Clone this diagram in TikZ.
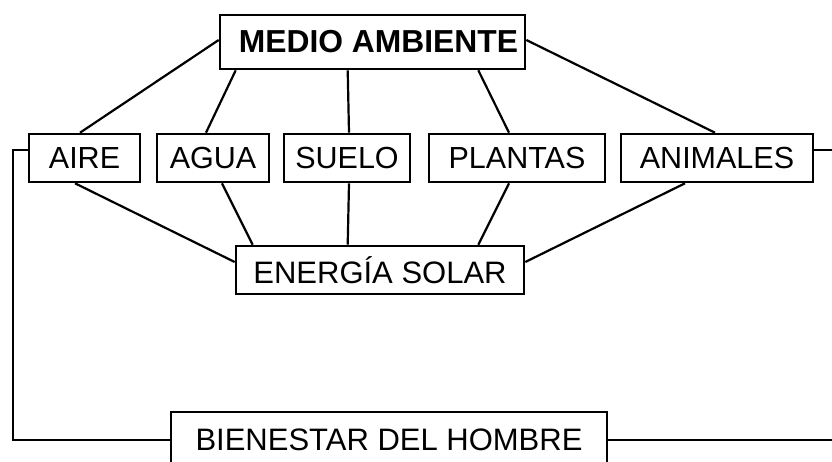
\documentclass[tikz,border=0pt]{standalone}
\usepackage{fontspec}
\setmainfont{Liberation Sans}
\usetikzlibrary{calc}
\begin{document}
\begin{tikzpicture}[x=1pt,y=-1pt,
  boxst/.style={draw,line width=2.6pt,inner sep=0pt,minimum height=48pt,font=\fontsize{30.5}{36}\selectfont},
  bigbox/.style={boxst,font=\fontsize{31}{36}\selectfont},
  link/.style={line width=2.2pt},
  ]
\useasboundingbox[fill=white] (0,0) rectangle (832,462);
\node[boxst,minimum width=305pt,minimum height=54pt,font=\fontsize{31.8}{36}\selectfont\bfseries] (medio) at (372.5,42) {\hspace*{12pt}MEDIO AMBIENTE};
\node[boxst,minimum width=111pt] (aire) at (84.5,158) {AIRE};
\node[boxst,minimum width=112pt] (agua) at (213,158) {AGUA};
\node[boxst,minimum width=126pt] (suelo) at (347,158) {SUELO};
\node[boxst,minimum width=176pt] (plantas) at (517,158) {PLANTAS};
\node[boxst,minimum width=192pt] (animales) at (717,158) {ANIMALES};
\node[bigbox,minimum width=288pt] (energia) at (380,270) {ENERGÍA SOLAR};
\node[bigbox,minimum width=436pt,minimum height=56pt] (bienestar) at (389,440) {BIENESTAR DEL HOMBRE};
\coordinate (lt) at (13,150);
\coordinate (lb) at (13,440);
\coordinate (rt) at (845,150);
\coordinate (rb) at (845,440);
% medio to row
\draw[link] ([yshift=2pt]medio.west) -- ([xshift=-4.5pt]aire.north);
\draw[link] ([xshift=17pt]medio.south west) -- ([xshift=-7pt]agua.north);
\draw[link] ([xshift=129pt]medio.south west) -- ([xshift=2pt]suelo.north);
\draw[link] ([xshift=-48pt]medio.south east) -- ([xshift=-8pt]plantas.north);
\draw[link] ([yshift=2pt]medio.east) -- ([xshift=-2pt]animales.north);
% row to energia
\draw[link] ([xshift=-9.5pt]aire.south) -- ([yshift=8pt]energia.west);
\draw[link] ([xshift=9pt]agua.south) -- ([xshift=18pt]energia.north west);
\draw[link] ([xshift=2pt]suelo.south) -- ([xshift=113pt]energia.north west);
\draw[link] ([xshift=-8pt]plantas.south) -- ([xshift=-47pt]energia.north east);
\draw[link] ([xshift=-32pt]animales.south) -- ([yshift=8pt]energia.east);
% feedback
\draw[link] ([yshift=8pt]aire.west) -- (lt) -- (lb) -- (bienestar.west);
\draw[link] ([yshift=8pt]animales.east) -- (rt) -- (rb) -- (bienestar.east);
\end{tikzpicture}
\end{document}
